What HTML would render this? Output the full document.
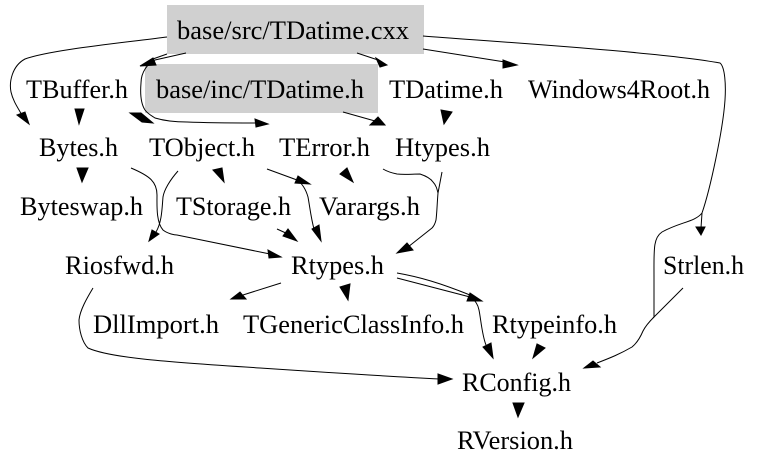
<!DOCTYPE html>
<html><head><meta charset="utf-8"><style>
html,body{margin:0;padding:0;background:#fff}
svg{display:block}
text{font-family:"Liberation Serif",serif;font-size:26px;fill:#000}
path{fill:none;stroke:#000;stroke-width:1}
polygon{fill:#000;stroke:#000;stroke-width:1}
</style></head><body>
<svg width="761" height="469" viewBox="0 0 761 469" xmlns="http://www.w3.org/2000/svg">
<rect x="167" y="5" width="257" height="49" fill="#d0d0d0"/>
<rect x="145" y="64" width="233" height="49" fill="#d0d0d0"/>
<path d="M167,37 C120,43 50,50 25,59 C12,66 9,82 11,92 C13,101 18,108 22,115"/>
<polygon points="17,115 25,112 29,124"/>
<path d="M167,54 L150,60"/>
<path d="M186,53 L155,60 C148,63 141,72 141,83 C140,95 141,104 145,110 C148,114 152,116 155,118 C165,121 175,122 187,122 C210,123 235,123 256,123"/>
<polygon points="140,66 153,58 156,65"/>
<polygon points="268,124 255,119 256,127"/>
<polygon points="130,113 141,113 153,123 142,122"/>
<path d="M357,53 L378,60"/>
<polygon points="387,65 376,58 380,67"/>
<path d="M423,49 L505,62"/>
<polygon points="517,65 503,60 503,68"/>
<path d="M423,36 C500,42 660,52 720,63 C725,67 726,85 725,100 C723,130 710,190 702,213 L701,228"/>
<polygon points="696,227 705,227 701,235"/>
<path d="M702,213 C695,222 680,222 662,232 C653,238 654,250 654,277 L654,317 C649,322 645,327 643,331 C640,338 637,343 632,347 C620,354 610,358 597,363"/>
<path d="M683,288 L653,318"/>
<polygon points="584,368 593,361 600,367"/>
<path d="M343,112 L375,121"/>
<polygon points="385,125 370,125 378,117"/>
<polygon points="75,109 84,109 79,124"/>
<polygon points="441,110 452,112 444,124"/>
<polygon points="77,168 88,168 82,182"/>
<path d="M131,168 C150,176 157,182 157,195 C157,205 156,222 163,230 C168,234 175,235 177,235 L270,254"/>
<polygon points="281,257 268,250 269,258"/>
<path d="M178,171 C170,180 164,190 163,197 C162,208 162,222 156,232"/>
<polygon points="149,241 152,230 159,234"/>
<polygon points="213,170 222,168 224,182"/>
<path d="M267,169 L297,180 C303,184 306,190 308,197 C310,208 311,218 314,229"/>
<polygon points="310,184 298,176 295,183"/>
<polygon points="321,241 312,229 319,225"/>
<polygon points="340,174 347,168 353,182"/>
<path d="M277,229 L288,234"/>
<polygon points="297,241 288,229 283,236"/>
<path d="M442,172 L438,193 C437,205 437,212 436,220 C435,224 433,227 432,228 L408,247"/>
<path d="M383,169 C388,172 392,173 397,174 C405,175 412,174 420,174 C426,176 431,179 433,182 C436,185 437,189 438,193"/>
<polygon points="397,253 407,243 413,250"/>
<path d="M93,288 C87,298 80,310 79,320 C79,330 82,342 88,348 C110,358 167,362 260,368 C320,372 380,376 440,379"/>
<polygon points="452,379 438,374 438,384"/>
<path d="M281,283 L243,295"/>
<polygon points="231,299 240,292 246,299"/>
<polygon points="340,287 350,284 348,300"/>
<path d="M397,273 C420,277 440,283 470,295"/>
<path d="M397,278 L470,297 C476,301 478,305 479,310 C481,320 482,335 486,345"/>
<polygon points="482,301 470,293 467,301"/>
<polygon points="493,358 483,347 491,343"/>
<polygon points="537,344 545,348 533,358"/>
<polygon points="513,403 524,403 518,417"/>
<text x="177" y="39" textLength="232" lengthAdjust="spacingAndGlyphs">base/src/TDatime.cxx</text>
<text x="26" y="98" textLength="102" lengthAdjust="spacingAndGlyphs">TBuffer.h</text>
<text x="156" y="98" textLength="208" lengthAdjust="spacingAndGlyphs">base/inc/TDatime.h</text>
<text x="389" y="98" textLength="114" lengthAdjust="spacingAndGlyphs">TDatime.h</text>
<text x="528" y="98" textLength="182" lengthAdjust="spacingAndGlyphs">Windows4Root.h</text>
<text x="39" y="156" textLength="79" lengthAdjust="spacingAndGlyphs">Bytes.h</text>
<text x="149" y="156" textLength="106" lengthAdjust="spacingAndGlyphs">TObject.h</text>
<text x="279" y="156" textLength="91" lengthAdjust="spacingAndGlyphs">TError.h</text>
<text x="395" y="156" textLength="95" lengthAdjust="spacingAndGlyphs">Htypes.h</text>
<text x="20" y="215" textLength="123" lengthAdjust="spacingAndGlyphs">Byteswap.h</text>
<text x="176" y="215" textLength="115" lengthAdjust="spacingAndGlyphs">TStorage.h</text>
<text x="319" y="215" textLength="101" lengthAdjust="spacingAndGlyphs">Varargs.h</text>
<text x="65" y="274" textLength="109" lengthAdjust="spacingAndGlyphs">Riosfwd.h</text>
<text x="291" y="274" textLength="93" lengthAdjust="spacingAndGlyphs">Rtypes.h</text>
<text x="663" y="274" textLength="81" lengthAdjust="spacingAndGlyphs">Strlen.h</text>
<text x="93" y="333" textLength="126" lengthAdjust="spacingAndGlyphs">DllImport.h</text>
<text x="243" y="333" textLength="221" lengthAdjust="spacingAndGlyphs">TGenericClassInfo.h</text>
<text x="492" y="333" textLength="125" lengthAdjust="spacingAndGlyphs">Rtypeinfo.h</text>
<text x="462" y="391" textLength="109" lengthAdjust="spacingAndGlyphs">RConfig.h</text>
<text x="457" y="449" textLength="116" lengthAdjust="spacingAndGlyphs">RVersion.h</text>
</svg>
</body></html>
